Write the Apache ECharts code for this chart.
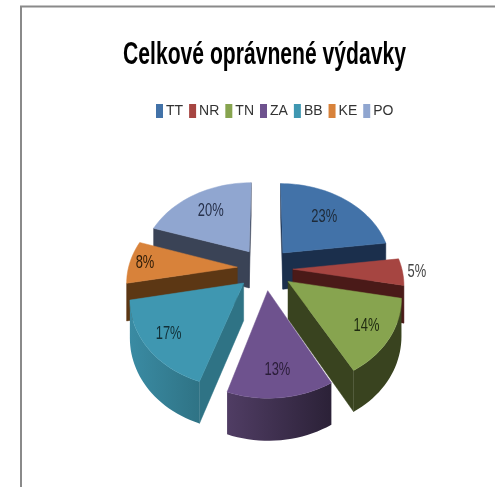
<!DOCTYPE html>
<html>
<head>
<meta charset="utf-8">
<style>html,body{margin:0;padding:0;background:#fff}#c{width:495px;height:487px;filter:blur(0.45px)}</style>
<script src="https://cdn.jsdelivr.net/npm/echarts@6/dist/echarts.min.js"></script>
</head>
<body>
<div id="c"></div>
<script>
const titleText = 'Celkové oprávnené výdavky';
const categories = ['TT', 'NR', 'TN', 'ZA', 'BB', 'KE', 'PO'];
const shares = [23, 5, 14, 13, 17, 8, 20];

const topColors = ['#4272a8', '#a64541', '#87a44f', '#6e528e', '#3f97b1', '#d8823a', '#90a6d0'];
const radialColors = ['#1b2f4c', '#4a1a18', '#39431f', '#2c2238', '#2f7385', '#5c3714', '#3a4356'];
const arcColors = [['#1b2f4c', '#1b2f4c'], ['#4a1a18', '#4a1a18'], ['#39431f', '#39431f'], ['#503d64', '#2b2137'], ['#3a8ba3', '#2f7385'], ['#5c3714', '#5c3714'], ['#3a4356', '#3a4356']];
const labelRadii = [0.65, 1.13, 0.79, 0.77, 0.8, 0.86, 0.69];
const labelColors = ['#1e2a38', '#444', '#1f2a10', '#2a1d38', '#123038', '#2e1c08', '#26304a'];
const paintOrder = [6, 0, 5, 1, 4, 2, 3];

const CX = 265, CY = 268.5, RX = 109, RY = 84, PERSP = 0.15, EXPLODE = 0.255;
const NARROW = 0.68;
const total = shares.reduce((a, b) => a + b, 0);
const starts = [];
shares.reduce((acc, v, i) => { starts[i] = acc; return acc + v; }, 0);

function project(p, down) {
  const w = 1 / (1 + PERSP * p[1]);
  const X = CX + RX * p[0] * w;
  let Y = CY - RY * p[1] * w;
  if (down) Y += 13 + 24 * w;
  return [X, Y];
}

function renderSlice(i) {
  const a1 = starts[i] / total * 2 * Math.PI;
  const a2 = (starts[i] + shares[i]) / total * 2 * Math.PI;
  const mid = (a1 + a2) / 2;
  const ox = EXPLODE * Math.sin(mid), oy = EXPLODE * Math.cos(mid);
  const world = (r, t) => [ox + r * Math.sin(t), oy + r * Math.cos(t)];
  const arcW = [];
  const n = Math.max(6, Math.round((a2 - a1) / 0.04));
  for (let k = 0; k <= n; k++) arcW.push(world(1, a1 + (a2 - a1) * k / n));
  const apex = world(0, 0);
  const children = [];
  const wall = (pts, fill) => {
    const top = pts.map(p => project(p, false));
    const bot = pts.map(p => project(p, true)).reverse();
    children.push({ type: 'polygon', shape: { points: top.concat(bot) }, style: { fill: fill, stroke: typeof fill === 'string' ? fill : null, lineWidth: 0.5 } });
  };
  const leftward = (p, q) => project(q, false)[0] < project(p, false)[0];
  if (leftward(apex, arcW[0])) wall([apex, arcW[0]], radialColors[i]);
  if (leftward(arcW[n], apex)) wall([arcW[n], apex], radialColors[i]);
  const vis = [];
  for (let k = 0; k < n; k++) {
    if (leftward(arcW[k], arcW[k + 1])) {
      if (!vis.length) vis.push(arcW[k]);
      vis.push(arcW[k + 1]);
    }
  }
  if (vis.length > 1) {
    wall(vis, { type: 'linear', x: 1, y: 0, x2: 0, y2: 0, colorStops: [{ offset: 0, color: arcColors[i][1] }, { offset: 1, color: arcColors[i][0] }] });
  }
  const topPts = [apex].concat(arcW).map(p => project(p, false));
  children.push({ type: 'polygon', shape: { points: topPts }, style: { fill: topColors[i], stroke: topColors[i], lineWidth: 0.5 } });
  const lp = project(world(labelRadii[i], mid), false);
  children.push({ type: 'text', z2: 10, x: lp[0], y: lp[1], scaleX: NARROW, style: { text: shares[i] + '%', align: 'center', verticalAlign: 'middle', fill: labelColors[i], font: '19px "Liberation Sans", sans-serif' } });
  return { type: 'group', children: children };
}

const chart = echarts.init(document.getElementById('c'), null, { renderer: 'canvas' });
chart.setOption({
  animation: false,
  backgroundColor: '#fff',
  legend: {
    data: categories, top: 99, left: 151, itemWidth: 7, itemHeight: 14, itemGap: 6,
    icon: 'rect', selectedMode: false,
    textStyle: { fontFamily: '"Liberation Sans", sans-serif', fontSize: 14, color: '#333', padding: [0, 0, 0, -2] }
  },
  graphic: [
    { type: 'line', shape: { x1: 20, y1: 6.5, x2: 495, y2: 6.5 }, style: { stroke: '#8a8a8a', lineWidth: 2 } },
    { type: 'line', shape: { x1: 21, y1: 6, x2: 21, y2: 487 }, style: { stroke: '#8a8a8a', lineWidth: 2 } },
    { type: 'text', x: 264.5, y: 55, scaleX: 0.66, style: { text: titleText, align: 'center', verticalAlign: 'middle', fill: '#000', font: 'bold 32px "Liberation Sans", sans-serif' } }
  ],
  series: paintOrder.map(i => ({
    type: 'custom', name: categories[i], coordinateSystem: 'none', silent: true,
    itemStyle: { color: topColors[i] },
    data: [shares[i]],
    renderItem: () => renderSlice(i)
  }))
});
</script>
</body>
</html>
